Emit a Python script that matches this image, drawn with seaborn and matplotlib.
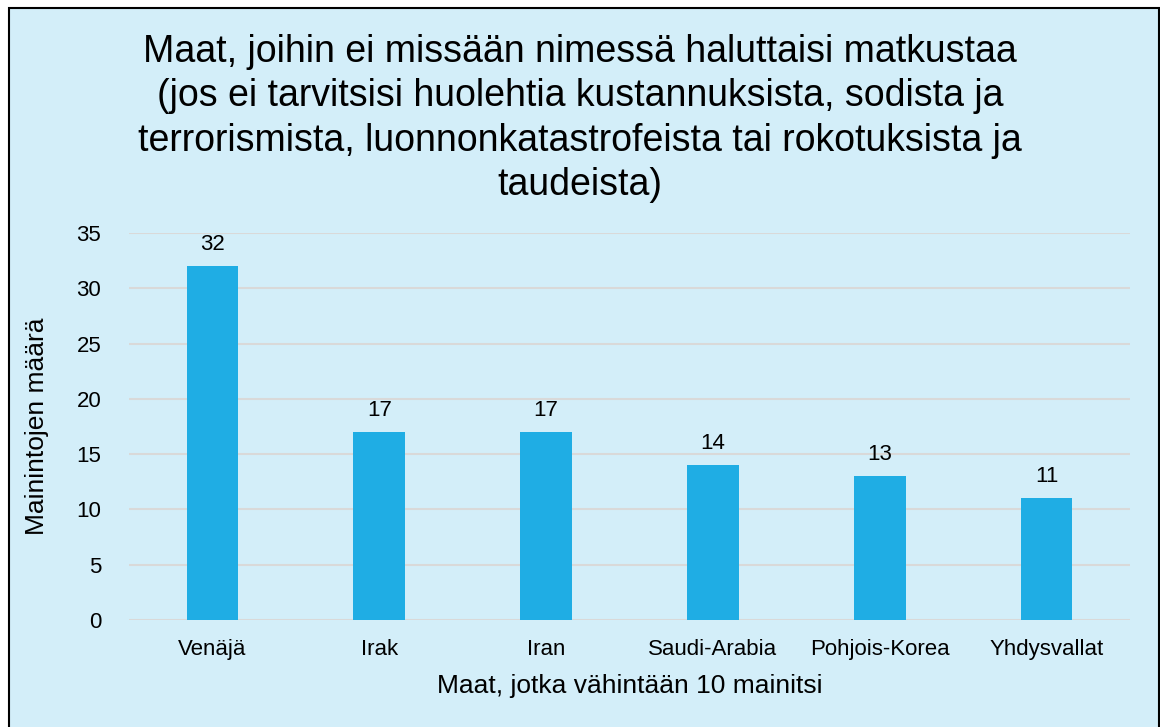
import matplotlib
matplotlib.use("Agg")
import matplotlib.pyplot as plt
import seaborn as sns
import pandas as pd
from matplotlib.patches import Rectangle

countries = ["Venäjä", "Irak", "Iran", "Saudi-Arabia", "Pohjois-Korea", "Yhdysvallat"]
mentions = [32, 17, 17, 14, 13, 11]
y_ticks = [0, 5, 10, 15, 20, 25, 30, 35]

title = ("Maat, joihin ei missään nimessä haluttaisi matkustaa\n"
         "(jos ei tarvitsisi huolehtia kustannuksista, sodista ja\n"
         "terrorismista, luonnonkatastrofeista tai rokotuksista ja\n"
         "taudeista)")

bg = "#D3EEF9"
bar_color = "#1FADE4"

sns.set_style("white")
plt.rcParams['font.family'] = ['Liberation Sans', 'DejaVu Sans']
plt.rcParams['text.color'] = 'black'
plt.rcParams['axes.labelcolor'] = 'black'

fig = plt.figure(figsize=(11.6, 7.27), dpi=100)
fig.patch.set_facecolor("white")
frame = Rectangle((9 / 1160, -0.01), 1150 / 1160, 1 - 8 / 727 + 0.01,
                  transform=fig.transFigure, facecolor=bg, edgecolor="black",
                  linewidth=1.5, zorder=-10)
fig.patches.append(frame)

ax = fig.add_axes([129 / 1160, 1 - 620 / 727, (1130 - 129) / 1160, (620 - 233) / 727])
ax.set_facecolor(bg)

df = pd.DataFrame({"maa": countries, "maara": mentions})
sns.barplot(data=df, x="maa", y="maara", color=bar_color, saturation=1,
            width=0.31, linewidth=0, edgecolor="none", ax=ax, zorder=3)

for i, v in enumerate(mentions):
    ax.text(i, v + 1.0, str(v), ha="center", va="bottom", fontsize=16, color="black")

ax.set_ylim(0, 35)
ax.set_xlim(-0.5, len(countries) - 0.5)
ax.set_yticks(y_ticks)
ax.yaxis.grid(True, color="#D9D9D9", linewidth=1.5, zorder=0)
ax.set_axisbelow(True)
for s in ax.spines.values():
    s.set_visible(False)
ax.tick_params(axis="both", length=0, labelsize=16, colors="black")
ax.tick_params(axis="y", pad=20)
ax.tick_params(axis="x", pad=14)

ax.set_xlabel("Maat, jotka vähintään 10 mainitsi", fontsize=19, labelpad=10)
ax.set_ylabel("Mainintojen määrä", fontsize=19, labelpad=20)

fig.text(0.5, 1 - 34 / 727, title, ha="center", va="top", fontsize=27,
         linespacing=1.3)

fig.savefig("out.png", dpi=100, facecolor=fig.get_facecolor())
